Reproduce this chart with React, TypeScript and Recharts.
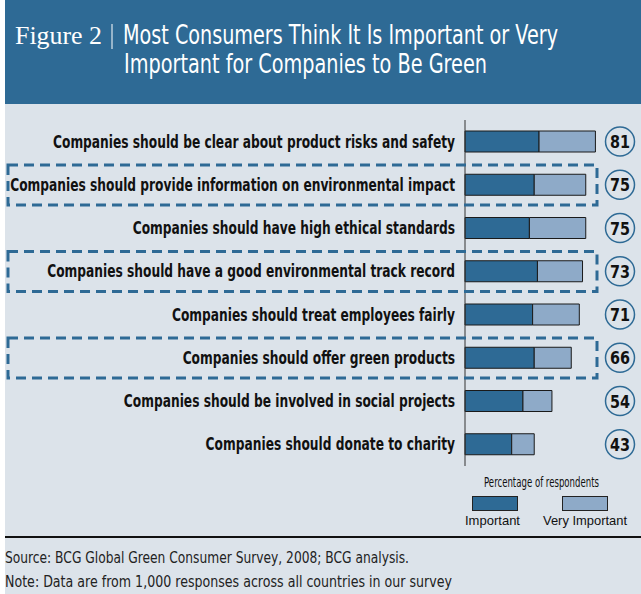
import React from "react";
import { BarChart, Bar, XAxis, YAxis, LabelList } from "recharts";

const statements = [
  "Companies should be clear about product risks and safety",
  "Companies should provide information on environmental impact",
  "Companies should have high ethical standards",
  "Companies should have a good environmental track record",
  "Companies should treat employees fairly",
  "Companies should offer green products",
  "Companies should be involved in social projects",
  "Companies should donate to charity",
];
const important = [46, 43, 40, 45, 42, 43, 36, 29];
const veryImportant = [35, 32, 35, 28, 29, 23, 18, 14];
const totals = [81, 75, 75, 73, 71, 66, 54, 43];
const highlighted = [false, true, false, true, false, true, false, false];

const data = statements.map((name, i) => ({
  name,
  imp: important[i],
  vi: veryImportant[i],
  total: totals[i],
}));

const DARK = "#2e6a95";
const LIGHT = "#8eaac8";
const BG = "#dce3ea";
const SANS = "'DejaVu Sans', sans-serif";
const SERIF = "'Liberation Serif', 'DejaVu Serif', serif";

const StatementTick = (props: any) => {
  const { x, y, payload, index } = props;
  const hl = highlighted[index];
  return (
    <g>
      {hl && (
        <rect
          x={x - 447}
          y={y - 20}
          width={589}
          height={40}
          fill="none"
          stroke={DARK}
          strokeWidth={3}
          strokeDasharray="10 6"
        />
      )}
      <text
        transform={`translate(${x},${y + 6}) scale(0.72,1)`}
        textAnchor="end"
        fontFamily={SANS}
        fontWeight="bold"
        fontSize={17}
        fill="#111"
      >
        {payload.value}
      </text>
    </g>
  );
};

const TotalBadge = (props: any) => {
  const { y, height, value } = props;
  const cy = y + height / 2;
  return (
    <g>
      <circle cx={620} cy={cy} r={14.5} fill={BG} stroke={DARK} strokeWidth={1.5} />
      <text
        transform={`translate(620,${cy + 6.5}) scale(0.8,1)`}
        textAnchor="middle"
        fontFamily={SANS}
        fontWeight="bold"
        fontSize={18}
        fill="#111"
      >
        {value}
      </text>
    </g>
  );
};

export default function App() {
  return (
    <div style={{ position: "absolute", left: 0, top: 0, width: 641, height: 594, background: "#fff", overflow: "hidden" }}>
      <div style={{ position: "absolute", left: 5, top: 0, width: 636, height: 594, background: BG }} />
      <div style={{ position: "absolute", left: 5, top: 0, width: 636, height: 104, background: DARK }} />
      <div style={{ position: "absolute", left: 5, top: 536, width: 636, height: 1.5, background: "#111" }} />
      <div style={{ position: "absolute", left: 0, top: 0 }}>
        <BarChart
          width={641}
          height={594}
          data={data}
          layout="vertical"
          margin={{ top: 120, right: 15, bottom: 128, left: 0 }}
          barSize={21}
        >
          <XAxis type="number" domain={[0, 100]} hide />
          <YAxis
            type="category"
            dataKey="name"
            width={465}
            tickLine={false}
            tickSize={0}
            tickMargin={10}
            axisLine={{ stroke: "#333", strokeWidth: 1 }}
            tick={<StatementTick />}
            interval={0}
          />
          <Bar dataKey="imp" stackId="a" fill={DARK} stroke="#1a1a1a" strokeWidth={1} isAnimationActive={false} />
          <Bar dataKey="vi" stackId="a" fill={LIGHT} stroke="#1a1a1a" strokeWidth={1} isAnimationActive={false}>
            <LabelList dataKey="total" content={<TotalBadge />} />
          </Bar>
        </BarChart>
      </div>
      <svg width={641} height={594} style={{ position: "absolute", left: 0, top: 0, pointerEvents: "none" }}>
        <text x={15} y={44} fontFamily={SERIF} fontSize={26} fill="#fff" textLength={87} lengthAdjust="spacingAndGlyphs">
          Figure 2
        </text>
        <line x1={112} y1={24} x2={112} y2={49} stroke="#fff" strokeWidth={1} />
        <text x={123} y={44} fontFamily={SANS} fontSize={26} fill="#fff" textLength={435} lengthAdjust="spacingAndGlyphs">
          Most Consumers Think It Is Important or Very
        </text>
        <text x={124} y={73} fontFamily={SANS} fontSize={26} fill="#fff" textLength={363} lengthAdjust="spacingAndGlyphs">
          Important for Companies to Be Green
        </text>

        <text x={484} y={487} fontFamily={SANS} fontSize={14} fill="#111" textLength={115} lengthAdjust="spacingAndGlyphs">
          Percentage of respondents
        </text>
        <rect x={472.5} y={496.5} width={45} height={14} fill={DARK} stroke="#222" strokeWidth={1} />
        <rect x={562.5} y={496.5} width={45} height={14} fill={LIGHT} stroke="#222" strokeWidth={1} />
        <text x={465} y={525} fontFamily="'Liberation Sans', Arial, sans-serif" fontSize={13} fill="#111" textLength={55} lengthAdjust="spacingAndGlyphs">
          Important
        </text>
        <text x={543} y={525} fontFamily="'Liberation Sans', Arial, sans-serif" fontSize={13} fill="#111" textLength={84} lengthAdjust="spacingAndGlyphs">
          Very Important
        </text>

        <text x={5} y={563} fontFamily={SANS} fontSize={15} fill="#222" textLength={404} lengthAdjust="spacingAndGlyphs">
          Source: BCG Global Green Consumer Survey, 2008; BCG analysis.
        </text>
        <text x={5} y={587} fontFamily={SANS} fontSize={15} fill="#222" textLength={447} lengthAdjust="spacingAndGlyphs">
          Note: Data are from 1,000 responses across all countries in our survey
        </text>
      </svg>
    </div>
  );
}
